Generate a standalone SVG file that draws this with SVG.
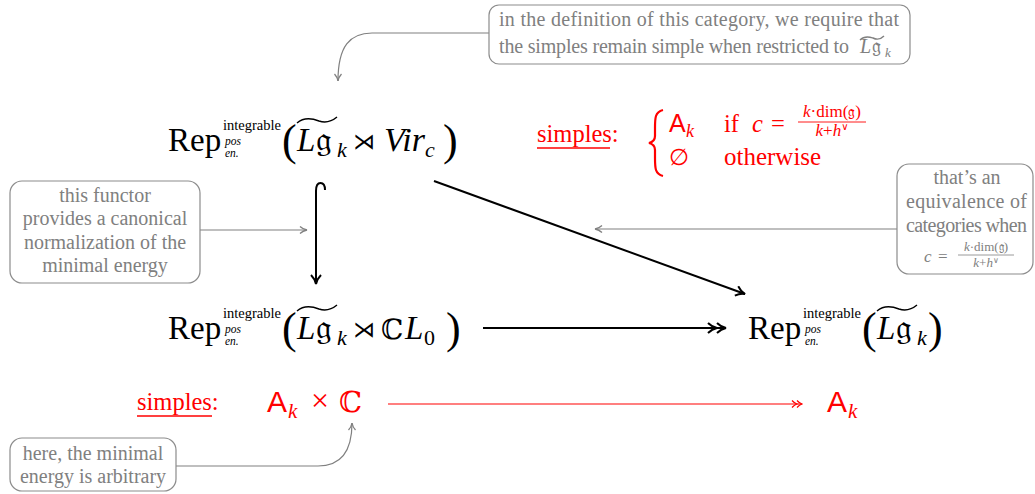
<svg xmlns="http://www.w3.org/2000/svg" width="1035" height="494" viewBox="0 0 1035 494">
<style>
.rm{font-family:"Liberation Serif",serif}
.it{font-family:"Liberation Serif",serif;font-style:italic}
.fk{font-family:"DejaVu Serif","DejaVu Sans",serif}
.ds{font-family:"DejaVu Sans",sans-serif}
.sf{font-family:"Liberation Sans",sans-serif}
.blk{fill:#000}
.red{fill:#ff0000}
.gry{fill:#808080}
.box{fill:#fff;stroke:#8c8c8c;stroke-width:1.2}
.note{font-family:"Liberation Serif",serif;font-size:20px;fill:#808080}
.tilde{fill:none;stroke-width:1.4}
</style>
<defs>
<marker id="ah" viewBox="0 0 12 12" markerWidth="12" markerHeight="12" markerUnits="userSpaceOnUse" refX="11" refY="6" orient="auto">
<path d="M2,1 Q6,5 11,6 Q6,7 2,11" fill="none" stroke="#000" stroke-width="2"/>
</marker>
<marker id="ah2" viewBox="0 0 20 12" markerWidth="20" markerHeight="12" markerUnits="userSpaceOnUse" refX="19" refY="6" orient="auto">
<path d="M1,1 Q5,5 10,6 Q5,7 1,11 M10,1 Q14,5 19,6 Q14,7 10,11" fill="none" stroke="#000" stroke-width="2"/>
</marker>
<marker id="gh" viewBox="0 0 10 10" markerWidth="10" markerHeight="10" markerUnits="userSpaceOnUse" refX="9" refY="5" orient="auto">
<path d="M2,1.5 Q5,4.3 9,5 Q5,5.7 2,8.5" fill="none" stroke="#808080" stroke-width="1.3"/>
</marker>
<marker id="rh2" viewBox="0 0 14 10" markerWidth="14" markerHeight="10" markerUnits="userSpaceOnUse" refX="13" refY="5" orient="auto">
<path d="M8,1.5 Q10.5,4.3 13,5 Q10.5,5.7 8,8.5 M3,1.5 Q5.5,4.3 8,5 Q5.5,5.7 3,8.5" fill="none" stroke="#ff0000" stroke-width="1.2"/>
</marker>
</defs>

<g id="connectors">
<path d="M316 282 L316 191 Q316 183 320.5 183 Q325 183 325 190" fill="none" stroke="#000" stroke-width="2"/>
<path d="M316 250 L316 284" fill="none" stroke="#000" stroke-width="2" marker-end="url(#ah)"/>
<path d="M434 181 L745 294" fill="none" stroke="#000" stroke-width="2" marker-end="url(#ah)"/>
<path d="M483 328 L726 328" fill="none" stroke="#000" stroke-width="2.2" marker-end="url(#ah2)"/>
<path d="M388 404 L802 404" fill="none" stroke="#ff0000" stroke-width="1.2" marker-end="url(#rh2)"/>
<path d="M490 33 L372 33 C350 33 338 46 338 81" fill="none" stroke="#808080" stroke-width="1.2" marker-end="url(#gh)"/>
<path d="M200 230 L307 230" fill="none" stroke="#808080" stroke-width="1.2" marker-end="url(#gh)"/>
<path d="M897 229 L595 229" fill="none" stroke="#808080" stroke-width="1.2" marker-end="url(#gh)"/>
<path d="M176 466 L318 466 C340 466 352 452 352 423" fill="none" stroke="#808080" stroke-width="1.2" marker-end="url(#gh)"/>
</g>

<g id="node-top">
<text class="rm blk" x="168" y="151" font-size="33">Rep</text>
<text class="rm blk" x="223" y="130" font-size="14.5">integrable</text>
<text class="it blk" x="225" y="144.5" font-size="11.5">pos</text>
<text class="it blk" x="225" y="157" font-size="11.5">en.</text>
<text class="rm blk" x="282" y="155" font-size="44">(</text>
<path class="tilde" stroke="#000" d="M297 123 C305 116 314 119 319 121 C325 123 331 122 337 117"/>
<text class="it blk" x="297" y="151" font-size="33">L</text>
<text class="fk blk" x="316" y="151" font-size="35">𝔤</text>
<text class="it blk" x="337" y="157" font-size="22">k</text>
<text class="ds blk" x="364" y="149" font-size="22" text-anchor="middle">⋊</text>
<text class="it blk" x="384" y="151" font-size="34">Vir</text>
<text class="it blk" x="425" y="157" font-size="22">c</text>
<text class="rm blk" x="443" y="155" font-size="44">)</text>
</g>

<g id="node-bottom-left">
<text class="rm blk" x="168" y="339" font-size="33">Rep</text>
<text class="rm blk" x="223" y="318" font-size="14.5">integrable</text>
<text class="it blk" x="225" y="332.5" font-size="11.5">pos</text>
<text class="it blk" x="225" y="345" font-size="11.5">en.</text>
<text class="rm blk" x="282" y="343" font-size="44">(</text>
<path class="tilde" stroke="#000" d="M297 311 C305 304 314 307 319 309 C325 311 331 310 337 305"/>
<text class="it blk" x="297" y="339" font-size="33">L</text>
<text class="fk blk" x="316" y="339" font-size="35">𝔤</text>
<text class="it blk" x="337" y="345" font-size="22">k</text>
<text class="ds blk" x="364" y="337" font-size="22" text-anchor="middle">⋊</text>
<text class="fk blk" x="381" y="339" font-size="28">ℂ</text>
<text class="it blk" x="405" y="339" font-size="33">L</text>
<text class="rm blk" x="424" y="345" font-size="22">0</text>
<text class="rm blk" x="446" y="343" font-size="44">)</text>
</g>

<g id="node-bottom-right">
<text class="rm blk" x="748" y="339" font-size="33">Rep</text>
<text class="rm blk" x="803" y="318" font-size="14.5">integrable</text>
<text class="it blk" x="805" y="332.5" font-size="11.5">pos</text>
<text class="it blk" x="805" y="345" font-size="11.5">en.</text>
<text class="rm blk" x="862" y="343" font-size="44">(</text>
<path class="tilde" stroke="#000" d="M877 311 C885 304 894 307 899 309 C905 311 911 310 917 305"/>
<text class="it blk" x="877" y="339" font-size="33">L</text>
<text class="fk blk" x="896" y="339" font-size="35">𝔤</text>
<text class="it blk" x="917" y="345" font-size="22">k</text>
<text class="rm blk" x="928" y="343" font-size="44">)</text>
</g>

<g id="simples-top">
<text class="rm red" x="537" y="142" font-size="24.5">simples:</text>
<line x1="537" y1="148" x2="610" y2="148" stroke="#ff0000" stroke-width="1.3"/>
<path d="M663 110 C655 112 655 118 655 128 L655 136 C655 140 653 142 649 143 C653 144 655 146 655 150 L655 158 C655 168 655 174 663 176" fill="none" stroke="#ff0000" stroke-width="2.2"/>
<text class="sf red" x="669" y="132" font-size="25">A</text>
<text class="it red" x="686" y="137" font-size="18">k</text>
<text class="rm red" x="724" y="132" font-size="24.5">if</text>
<text class="it red" x="752" y="132" font-size="24.5">c</text>
<text class="rm red" x="771" y="132" font-size="24.5">=</text>
<text class="rm red" x="832" y="117" font-size="17" text-anchor="middle"><tspan class="it">k</tspan>·dim(<tspan class="fk" font-size="15">𝔤</tspan>)</text>
<line x1="798" y1="122" x2="866" y2="122" stroke="#ff0000" stroke-width="0.9"/>
<text class="rm red" x="832" y="136" font-size="17" text-anchor="middle"><tspan class="it">k</tspan>+<tspan class="it">h</tspan><tspan class="ds" font-size="10" dy="-6">∨</tspan></text>
<text class="ds red" x="669" y="165" font-size="23">∅</text>
<text class="rm red" x="724" y="165" font-size="25">otherwise</text>
</g>

<g id="simples-bottom">
<text class="rm red" x="137" y="410" font-size="24.5">simples:</text>
<line x1="137" y1="416" x2="212" y2="416" stroke="#ff0000" stroke-width="1.3"/>
<text class="sf red" x="267" y="412" font-size="30">A</text>
<text class="it red" x="288" y="418" font-size="21">k</text>
<text class="rm red" x="320" y="411" font-size="32" text-anchor="middle">×</text>
<text class="fk red" x="339" y="412" font-size="29">ℂ</text>
<text class="sf red" x="827" y="412" font-size="30">A</text>
<text class="it red" x="848" y="418" font-size="21">k</text>
</g>

<g id="note-top">
<rect class="box" x="489" y="5" width="421" height="59" rx="10"/>
<text class="note" x="499" y="26" textLength="400" lengthAdjust="spacing">in the definition of this category, we require that</text>
<text class="note" x="499" y="53" textLength="350" lengthAdjust="spacing">the simples remain simple when restricted to</text>
<path class="tilde" stroke="#808080" d="M860 40 C865 35 870 37 873 38 C877 40 881 39 884 36"/>
<text class="note it" x="860" y="53">L</text>
<text class="fk gry" x="872" y="53" font-size="20">𝔤</text>
<text class="it gry" x="885" y="57" font-size="13">k</text>
</g>

<g id="note-left">
<rect class="box" x="10" y="181" width="190" height="102" rx="12"/>
<text class="note" x="105" y="202" text-anchor="middle">this functor</text>
<text class="note" x="105" y="225" text-anchor="middle">provides a canonical</text>
<text class="note" x="105" y="249" text-anchor="middle">normalization of the</text>
<text class="note" x="105" y="272" text-anchor="middle">minimal energy</text>
</g>

<g id="note-right">
<rect class="box" x="897" y="164" width="136" height="110" rx="12"/>
<text class="note" x="967" y="184" text-anchor="middle">that’s an</text>
<text class="note" x="906" y="208" textLength="121" lengthAdjust="spacing">equivalence of</text>
<text class="note" x="906" y="232" textLength="121" lengthAdjust="spacing">categories when</text>
<text class="it gry" x="924" y="262" font-size="17">c</text>
<text class="rm gry" x="938" y="262" font-size="17">=</text>
<text class="rm gry" x="986" y="251" font-size="13" text-anchor="middle"><tspan class="it">k</tspan>·dim(<tspan class="fk" font-size="12">𝔤</tspan>)</text>
<line x1="958" y1="255" x2="1014" y2="255" stroke="#808080" stroke-width="0.8"/>
<text class="rm gry" x="986" y="267" font-size="13" text-anchor="middle"><tspan class="it">k</tspan>+<tspan class="it">h</tspan><tspan class="ds" font-size="8" dy="-4">∨</tspan></text>
</g>

<g id="note-bottom">
<rect class="box" x="10" y="438" width="166" height="53" rx="12"/>
<text class="note" x="93" y="460" text-anchor="middle">here, the minimal</text>
<text class="note" x="93" y="483" text-anchor="middle">energy is arbitrary</text>
</g>
</svg>
